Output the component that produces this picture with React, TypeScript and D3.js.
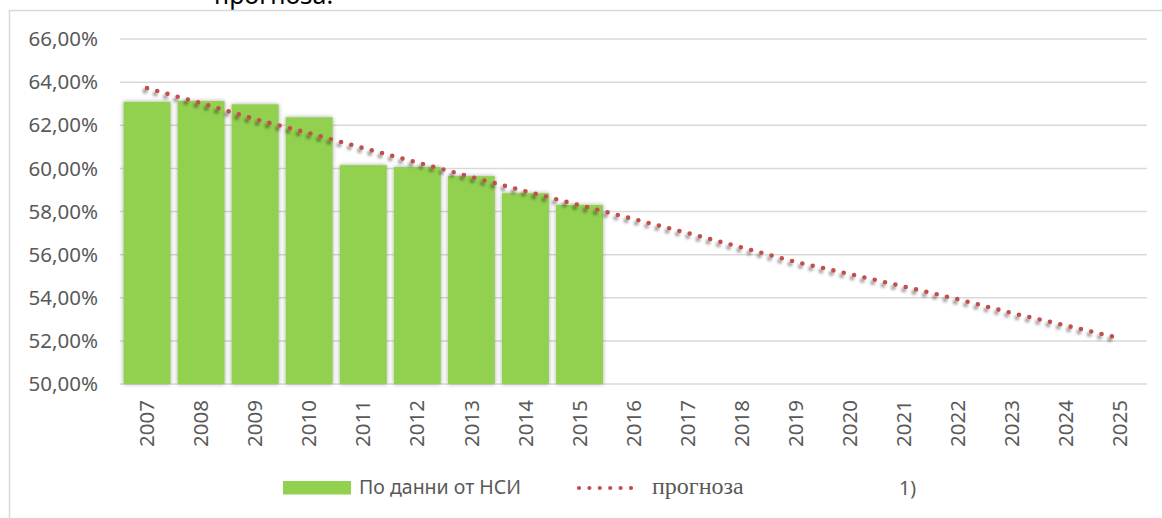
import * as d3 from 'd3';

// categories
const years = [
  '2007', '2008', '2009', '2010', '2011', '2012', '2013', '2014', '2015', '2016',
  '2017', '2018', '2019', '2020', '2021', '2022', '2023', '2024', '2025',
];

// По данни от НСИ (%), 2007-2015
const nsiValues = [63.09, 63.12, 62.97, 62.37, 60.15, 60.06, 59.64, 58.85, 58.31];

// прогноза (%), 2007-2025
const forecastValues = [
  63.72, 63.02, 62.28, 61.63, 60.94, 60.27, 59.6, 58.94, 58.29, 57.65,
  57.0, 56.33, 55.66, 55.1, 54.52, 53.93, 53.29, 52.71, 52.12,
];

const yTicks = [50, 52, 54, 56, 58, 60, 62, 64, 66];

const W = 1162;
const H = 518;
const plot = { left: 120, right: 1147, top: 39, bottom: 384 };

const grey = '#595959';
const green = '#92d050';
const red = '#c0504d';

const locale = d3.formatLocale({ decimal: ',', thousands: ' ', grouping: [3], currency: ['', ''] });
const fmt = locale.format('.2f');

export default function App() {
  const x = d3.scaleBand<string>()
    .domain(years)
    .range([plot.left, plot.right])
    .paddingInner(0.13)
    .paddingOuter(0.065);

  const y = d3.scaleLinear().domain([50, 66]).range([plot.bottom, plot.top]);

  const cx = (yr: string) => (x(yr) ?? 0) + x.bandwidth() / 2;

  const line = d3.line<number>()
    .x((_, i) => cx(years[i]))
    .y((d) => y(d));

  const forecastPath = line(forecastValues) ?? '';

  return (
    <svg
      width={W}
      height={H}
      style={{ position: 'absolute', left: 0, top: 0, background: '#fff' }}
    >
      <defs>
        <filter id="barShadow" x="-20%" y="-5%" width="140%" height="110%">
          <feDropShadow dx="0" dy="0" stdDeviation="2.2" floodColor="#000" floodOpacity="0.35" />
        </filter>
        <filter id="lineShadow" x="-5%" y="-20%" width="110%" height="140%">
          <feDropShadow dx="-2" dy="3" stdDeviation="1.4" floodColor="#000" floodOpacity="0.45" />
        </filter>
      </defs>

      {/* cut-off title, as in the source */}
      <text x={214} y={4} fontFamily="'Noto Sans', sans-serif" fontSize={25} fill="#000">
        прогноза.
      </text>

      {/* chart frame */}
      <line x1={9} x2={W} y1={10.5} y2={10.5} stroke="#d9d9d9" strokeWidth={1.5} />
      <line x1={9.5} x2={9.5} y1={10} y2={H} stroke="#d9d9d9" strokeWidth={1.5} />

      {/* gridlines */}
      {yTicks.map((t) => (
        <line
          key={t}
          x1={plot.left}
          x2={plot.right}
          y1={y(t)}
          y2={y(t)}
          stroke="#d9d9d9"
          strokeWidth={1.5}
        />
      ))}

      {/* y tick labels */}
      {yTicks.map((t) => (
        <text
          key={t}
          x={98}
          y={y(t)}
          dy="0.35em"
          textAnchor="end"
          fontFamily="'Noto Sans', sans-serif"
          fontSize={20.5}
          fill={grey}
        >
          {fmt(t)}%
        </text>
      ))}

      {/* bars */}
      <g filter="url(#barShadow)">
        {nsiValues.map((v, i) => (
          <rect
            key={years[i]}
            x={x(years[i])}
            y={y(v)}
            width={x.bandwidth()}
            height={y(50) - y(v)}
            fill={green}
          />
        ))}
      </g>

      {/* forecast trend */}
      <path
        d={forecastPath}
        fill="none"
        stroke={red}
        strokeWidth={4.6}
        strokeLinecap="round"
        strokeDasharray="0 10.6"
        filter="url(#lineShadow)"
      />

      {/* x tick labels */}
      {years.map((yr) => (
        <text
          key={yr}
          transform={`translate(${cx(yr)},400) rotate(-90)`}
          dy="0.35em"
          textAnchor="end"
          fontFamily="'Noto Sans', sans-serif"
          fontSize={20.5}
          fill={grey}
        >
          {yr}
        </text>
      ))}

      {/* legend */}
      <rect x={283} y={481} width={68} height={13.5} fill={green} />
      <text x={359} y={494} fontFamily="'Noto Sans', sans-serif" fontSize={19.5} fill={grey}>
        По данни от НСИ
      </text>
      <line
        x1={579}
        x2={631}
        y1={488}
        y2={488}
        stroke={red}
        strokeWidth={4.2}
        strokeLinecap="round"
        strokeDasharray="0 10.4"
      />
      <text x={652} y={494} fontFamily="'Liberation Serif', serif" fontSize={24} fill={grey}>
        прогноза
      </text>
      <text x={899} y={495} fontFamily="'Noto Sans', sans-serif" fontSize={19.5} fill={grey}>
        1)
      </text>
    </svg>
  );
}
